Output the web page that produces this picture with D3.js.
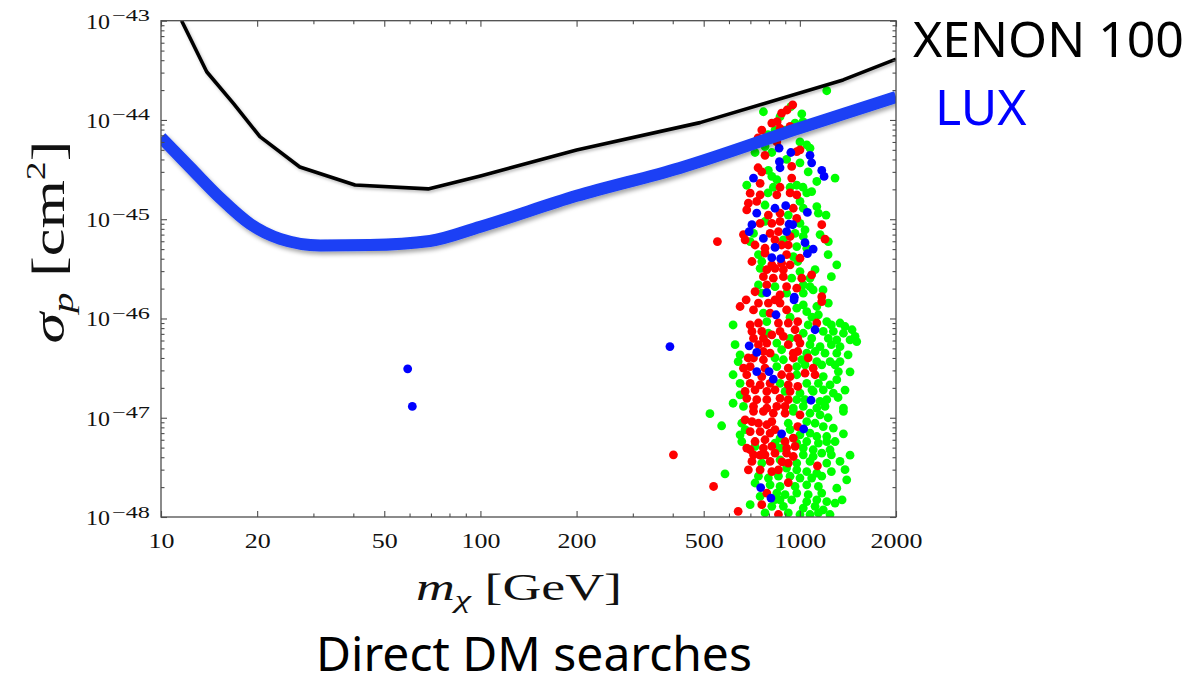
<!DOCTYPE html>
<html><head><meta charset="utf-8">
<script src="https://cdn.jsdelivr.net/npm/d3@7"></script>
<style>body{margin:0;background:#fff}svg{display:block}</style>
</head><body><svg id="c" width="1192" height="686"></svg>
<script>
// ---- data ----
const xTickValues = [10,20,50,100,200,500,1000,2000];
const xTickLabels = ["10","20","50","100","200","500","1000","2000"];
const yTickValues = [1e-48,1e-47,1e-46,1e-45,1e-44,1e-43];
const yTickExponents = ["\u221248","\u221247","\u221246","\u221245","\u221244","\u221243"];

const xenonMass  = [11.6, 13.9, 16.9, 20.4, 27.2, 40.5, 68.6, 100, 200, 487, 1366, 2000];
const xenonSigma = [1e-43, 3.06e-44, 1.45e-44, 6.79e-45, 3.36e-45, 2.21e-45, 2.02e-45, 2.73e-45, 4.99e-45, 9.4e-45, 2.53e-44, 4.1e-44];

const luxMass  = [10, 12.3, 15.3, 19.0, 23.6, 31.5, 45.1, 69.5, 100, 200, 421, 1000, 2000];
const luxSigma = [6.67e-45, 3.36e-45, 1.64e-45, 8.97e-46, 6.34e-46, 5.45e-46, 5.5e-46, 6.04e-46, 8.4e-46, 1.72e-45, 3.29e-45, 8.3e-45, 1.7e-44];

const greenPoints = [
[1214,1.97e-44],[937,1.36e-44],[769,1.21e-44],[867,1.08e-44],[1014,1.15e-44],[1023,9.6e-45],[836,7.9e-45],[899,7.9e-45],[966,9.3e-45],[795,7.1e-45],[1001,6.0e-45],[1051,5.6e-45],[1076,5.2e-45],[778,5.4e-45],[724,4.7e-45],[817,4.7e-45],[909,4.0e-45],[1001,3.7e-45],[797,3.1e-45],[817,2.7e-45],[682,2.2e-45],[847,2.5e-45],[978,2.2e-45],[1062,3.0e-45],[1130,2.4e-45],[1289,2.6e-45],[932,2.1e-45],[826,2.1e-45],[1023,2.1e-45],
[795,1.84e-45],[1051,1.84e-45],[1089,1.9e-45],[778,1.39e-45],[1001,1.51e-45],[1025,1.29e-45],[1130,1.34e-45],[1143,1.15e-45],[920,1.10e-45],[1208,1.1e-45],[778,9.5e-46],[1001,9.1e-46],[716,7.2e-46],[966,7.2e-46],[1038,7.8e-46],[1157,7.0e-46],[699,5.95e-46],[888,6.2e-46],[1228,5.95e-46],[1025,6.7e-46],[978,5.3e-46],[1051,5.1e-46],[742,4.4e-46],[954,4.2e-46],[1226,4.4e-46],[760,3.75e-46],[985,3.75e-46],[1305,3.47e-46],[751,3.2e-46],[1001,2.97e-46],[1116,3.1e-46],[1255,2.64e-46],[943,2.55e-46],[1076,2.55e-46],[742,2.18e-46],[836,2.09e-46],[1025,2.18e-46],[1076,2.09e-46],[1182,1.94e-46],[760,1.8e-46],[909,1.8e-46],[1025,1.8e-46],[1101,1.94e-46],
[1025,1.37e-46],[1130,1.32e-46],[1228,1.43e-46],[769,1.13e-46],[978,1.27e-46],[1051,1.17e-46],[1143,1.09e-46],[1091,1.03e-46],[932,1.03e-46],[618,8.6e-47],[788,9.3e-47],[1062,8.6e-47],[1214,9.3e-47],[1255,8.6e-47],[1336,9.0e-47],[1385,8.3e-47],[1457,7.7e-47],[797,7.1e-47],[1025,7.1e-47],[1184,7.4e-47],[1273,7.4e-47],[1369,7.1e-47],[1489,6.6e-47],[932,6.3e-47],[1089,6.3e-47],[1228,6.3e-47],[1305,6.1e-47],[1436,6.1e-47],[1507,5.85e-47],[627,5.45e-47],[847,5.65e-47],[1076,5.45e-47],[1157,5.2e-47],[1255,5.45e-47],[1336,5.2e-47],[877,4.84e-47],[1051,4.47e-47],[1116,4.65e-47],[1199,4.47e-47],[1305,4.47e-47],[1416,4.3e-47],[650,4.3e-47],[641,3.68e-47],[836,4.0e-47],[888,3.84e-47],[1014,3.84e-47],[1130,3.68e-47],[1243,3.68e-47],[1336,3.68e-47],[847,3.28e-47],[978,3.28e-47],[1038,3.41e-47],[1171,3.41e-47],[1289,3.41e-47],[1320,2.92e-47],[1436,2.9e-47],[618,2.71e-47],[978,2.71e-47],[1184,2.6e-47],[1305,2.42e-47],[650,2.22e-47],[867,2.22e-47],[1051,2.22e-47],[1143,2.22e-47],[1243,2.14e-47],[899,1.84e-47],[1001,1.77e-47],[1091,1.91e-47],[1101,1.84e-47],[1184,1.91e-47],[1273,1.77e-47],[1385,1.9e-47],[650,1.7e-47],[1317,1.6e-47],[618,1.4e-47],[978,1.52e-47],[1038,1.52e-47],[1157,1.46e-47],[1214,1.52e-47],[666,1.3e-47],[954,1.25e-47],[1025,1.3e-47],[1130,1.25e-47],[1199,1.3e-47],[1369,1.25e-47],
[523,1.1e-47],[954,1.16e-47],[1076,1.11e-47],[1157,1.07e-47],[1369,1.16e-47],[1226,1.0e-47],[569,8.3e-48],[658,8.8e-48],[920,8.8e-48],[1051,9.15e-48],[1116,8.8e-48],[1184,8.15e-48],[1273,7.86e-48],[674,7.6e-48],[932,7.6e-48],[650,6.73e-48],[867,6.23e-48],[1001,6.73e-48],[1076,7.0e-48],[1130,6.47e-48],[1214,6.47e-48],[1369,6.88e-48],[658,5.76e-48],[836,5.55e-48],[978,5.55e-48],[1051,5.76e-48],[1143,5.55e-48],[1214,5.76e-48],[1289,5.76e-48],[724,5.14e-48],[867,4.95e-48],[1025,4.95e-48],[1101,4.76e-48],[1243,4.76e-48],[1025,4.23e-48],[1101,4.07e-48],[1171,4.4e-48],[1255,4.23e-48],[1436,4.2e-48],[1336,3.63e-48],[760,3.49e-48],[867,3.77e-48],[978,3.49e-48],[1076,3.63e-48],[1214,3.49e-48],[909,3.11e-48],[978,2.99e-48],[1051,2.87e-48],[1130,2.77e-48],[1255,2.87e-48],[1385,3.0e-48],[583,2.72e-48],[742,2.58e-48],[797,2.47e-48],[857,2.58e-48],[932,2.58e-48],[1001,2.47e-48],[1089,2.47e-48],[1171,2.58e-48],[1402,2.37e-48],[724,2.2e-48],[807,2.11e-48],[867,2.03e-48],[966,2.03e-48],[1051,2.11e-48],[1143,2.03e-48],[1305,1.95e-48],[847,1.74e-48],[899,1.68e-48],[978,1.74e-48],[1062,1.68e-48],[1171,1.74e-48],[751,1.61e-48],[836,1.5e-48],[867,1.49e-48],[943,1.49e-48],[1051,1.43e-48],[1130,1.49e-48],[1214,1.43e-48],[1289,1.38e-48],[1356,1.49e-48],[699,1.33e-48],[817,1.28e-48],[888,1.28e-48],[1025,1.23e-48],[1116,1.28e-48],[1184,1.18e-48],[920,1.1e-48],[1001,1.06e-48],[1076,1.06e-48],[1143,1.1e-48],[1243,1.06e-48],[778,1.1e-48]
];

const redPoints = [
[950,1.42e-44],[912,1.26e-44],[877,1.17e-44],[849,9.6e-45],[817,9.3e-45],[760,7.9e-45],[867,8.2e-45],[932,8.6e-45],[740,6.6e-45],[847,6.0e-45],[1001,5.0e-45],[978,4.8e-45],[778,4.4e-45],[943,3.4e-45],[740,3.3e-45],[760,3.0e-45],[751,2.3e-45],[943,2.6e-45],[867,2.1e-45],
[699,1.83e-45],[751,1.76e-45],[847,1.76e-45],[932,1.84e-45],[978,1.76e-45],[690,1.45e-45],[733,1.51e-45],[954,1.29e-45],[682,1.24e-45],[797,1.10e-45],[867,1.15e-45],[978,1.02e-45],[751,9.1e-46],[817,9.1e-46],[867,9.5e-46],[1171,8.8e-46],[666,7.0e-46],[807,7.2e-46],[857,7.5e-46],[552,5.95e-46],[674,6.2e-46],[836,6.2e-46],[932,6.7e-46],[1199,6.3e-46],[724,5.5e-46],[778,5.1e-46],[877,5.5e-46],[920,5.5e-46],[778,4.55e-46],[909,4.4e-46],[1001,4.05e-46],[708,3.75e-46],[817,3.47e-46],[877,3.6e-46],[932,3.47e-46],[788,3.1e-46],[836,3.2e-46],[888,3.1e-46],[1089,2.75e-46],[769,2.64e-46],[826,2.55e-46],[888,2.64e-46],[1014,2.55e-46],[788,2.18e-46],[909,2.09e-46],[978,2.02e-46],[724,1.86e-46],[867,1.73e-46],[1171,1.66e-46],
[679,1.54e-46],[836,1.54e-46],[650,1.32e-46],[742,1.43e-46],[797,1.43e-46],[867,1.43e-46],[1171,1.48e-46],[716,1.22e-46],[807,1.13e-46],[909,1.22e-46],[699,8.6e-47],[742,9.0e-47],[857,9.0e-47],[920,9.0e-47],[985,9.3e-47],[1130,9.0e-47],[708,7.4e-47],[760,7.4e-47],[867,7.4e-47],[966,7.7e-47],[716,6.3e-47],[769,6.3e-47],[817,6.85e-47],[888,6.6e-47],[985,6.3e-47],[742,5.45e-47],[788,5.65e-47],[920,5.45e-47],[1001,5.65e-47],[769,4.65e-47],[807,4.47e-47],[954,4.47e-47],[985,4.65e-47],[689,4.0e-47],[716,4.0e-47],[769,3.84e-47],[954,4.0e-47],[1062,4.0e-47],[666,3.16e-47],[699,3.28e-47],[778,3.16e-47],[920,3.16e-47],[1101,3.16e-47],[682,2.71e-47],[760,2.6e-47],[877,2.71e-47],[932,2.6e-47],[1038,2.81e-47],[1116,2.71e-47],[699,2.22e-47],[751,2.14e-47],[807,2.22e-47],[920,2.14e-47],[985,2.07e-47],[674,1.84e-47],[724,1.91e-47],[788,1.84e-47],[836,1.91e-47],[932,1.84e-47],[682,1.57e-47],[733,1.52e-47],[788,1.52e-47],[867,1.57e-47],[920,1.52e-47],[716,1.3e-47],[788,1.25e-47],[847,1.3e-47],[899,1.3e-47],
[716,1.16e-47],[769,1.16e-47],[826,1.11e-47],[899,1.11e-47],[1001,1.07e-47],[674,9.5e-48],[708,9.15e-48],[742,8.8e-48],[788,8.5e-48],[817,9.15e-48],[985,8.15e-48],[836,7.6e-48],[699,7.26e-48],[751,7.26e-48],[807,7.0e-48],[954,6.23e-48],[724,5.76e-48],[778,6.0e-48],[899,5.76e-48],[682,4.95e-48],[699,4.76e-48],[769,4.95e-48],[817,5.14e-48],[909,4.95e-48],[966,5.14e-48],[716,4.23e-48],[751,4.2e-48],[778,4.23e-48],[836,4.4e-48],[909,4.4e-48],[954,4.07e-48],[708,3.63e-48],[807,3.63e-48],[880,3.6e-48],[920,3.49e-48],[1135,3.28e-48],[690,2.99e-48],[751,2.99e-48],[817,2.87e-48],[857,2.99e-48],[920,2.22e-48],[537,2.03e-48],[788,1.74e-48],[760,1.33e-48],[641,1.14e-48],[857,1.06e-48],
[402,4.23e-48]
];

const bluePoints = [
[861,5.2e-45],[937,4.7e-45],[1076,4.4e-45],[1089,3.7e-45],[863,3.8e-45],[867,3.3e-45],[1171,3.1e-45],[1191,2.7e-45],[716,2.6e-45],
[836,1.29e-45],[903,1.37e-45],[1056,1.17e-45],[733,1.15e-45],[708,8.8e-46],[925,8.9e-46],[950,8.8e-46],[694,7.5e-46],[909,7.5e-46],[769,6.4e-46],[1038,5.8e-46],[836,5.2e-46],[1101,5.0e-46],[1056,4.5e-46],[817,4.1e-46],[871,4.0e-46],[788,1.82e-46],[961,1.64e-46],
[959,1.54e-46],[842,1.09e-46],[1116,7.7e-47],[694,5.3e-47],[733,4.55e-47],[733,2.92e-47],[801,2.92e-47],[826,2.45e-47],[1084,1.5e-47],
[1028,7.7e-48],[877,6.88e-48],[754,1.98e-48],[812,1.55e-48],
[59.2,3.11e-47],[61.2,1.30e-47],[392,5.21e-47]
];

// ---- drawing ----
const svg = d3.select("#c");
const L = 161, R = 896, T = 20.7, B = 517;
const x = d3.scaleLog().domain([10,2000]).range([L,R]);
const y = d3.scaleLog().domain([1e-48,1e-43]).range([B,T]);

const defs = svg.append("defs");
defs.append("clipPath").attr("id","clip").append("rect")
  .attr("x",L).attr("y",T).attr("width",R-L).attr("height",B-T);
const f1 = defs.append("filter").attr("id","shLux").attr("x","-10%").attr("y","-10%").attr("width","120%").attr("height","140%");
f1.append("feDropShadow").attr("dx",2).attr("dy",3).attr("stdDeviation",2).attr("flood-color","#000").attr("flood-opacity",0.35);
const f2 = defs.append("filter").attr("id","shXe").attr("x","-10%").attr("y","-10%").attr("width","120%").attr("height","140%");
f2.append("feDropShadow").attr("dx",1.5).attr("dy",2).attr("stdDeviation",1.5).attr("flood-color","#000").attr("flood-opacity",0.25);

const plot = svg.append("g").attr("clip-path","url(#clip)");

function dots(data, color){
  plot.append("g").selectAll("circle").data(data).join("circle")
    .attr("cx", d => x(d[0])).attr("cy", d => y(d[1])).attr("r", 4.4)
    .attr("fill", color);
}
dots(greenPoints, "#00ff00");
dots(redPoints, "#ff0000");
dots(bluePoints, "#0000ff");

const xenon = xenonMass.map((m,i)=>[m, xenonSigma[i]]);
const lux = luxMass.map((m,i)=>[m, luxSigma[i]]);

plot.append("path").datum(xenon)
  .attr("d", d3.line().x(d=>x(d[0])).y(d=>y(d[1])).curve(d3.curveLinear))
  .attr("fill","none").attr("stroke","#000").attr("stroke-width",3.6)
  .attr("stroke-linejoin","round").attr("filter","url(#shXe)");

plot.append("path").datum(lux)
  .attr("d", d3.line().x(d=>x(d[0])).y(d=>y(d[1])).curve(d3.curveMonotoneX))
  .attr("fill","none").attr("stroke","#1a40f5").attr("stroke-width",12)
  .attr("stroke-linejoin","round").attr("filter","url(#shLux)");

// axes
const axisColor = "#4d4d4d";
const xMinor = x.ticks().filter(v => !xTickValues.some(m => Math.abs(v/m-1) < 1e-9));
const yMinor = y.ticks().filter(v => !yTickValues.some(m => Math.abs(v/m-1) < 1e-9));

function tickAxis(axisGen, scale, values, size, transform){
  const g = svg.append("g").attr("transform", transform)
    .call(axisGen(scale).tickValues(values).tickSizeInner(size).tickSizeOuter(0).tickFormat(""));
  g.select(".domain").remove();
  g.selectAll(".tick line").attr("stroke", axisColor).attr("stroke-width",1.1);
  g.selectAll(".tick text").remove();
  return g;
}
const gxB = tickAxis(d3.axisBottom, x, xTickValues, -6, `translate(0,${B})`);
tickAxis(d3.axisBottom, x, xMinor, -3.5, `translate(0,${B})`);
tickAxis(d3.axisTop, x, xTickValues, -6, `translate(0,${T})`);
tickAxis(d3.axisTop, x, xMinor, -3.5, `translate(0,${T})`);
const gyL = tickAxis(d3.axisLeft, y, yTickValues, -6, `translate(${L},0)`);
tickAxis(d3.axisLeft, y, yMinor, -3.5, `translate(${L},0)`);
tickAxis(d3.axisRight, y, yTickValues, -6, `translate(${R},0)`);
tickAxis(d3.axisRight, y, yMinor, -3.5, `translate(${R},0)`);

svg.append("rect").attr("x",L).attr("y",T).attr("width",R-L).attr("height",B-T)
  .attr("fill","none").attr("stroke",axisColor).attr("stroke-width",1.3);

const serif = "'Liberation Serif','DejaVu Serif',serif";
// x tick labels
gxB.selectAll(".tick").append("text")
  .attr("y", 31).attr("text-anchor","middle")
  .attr("font-family", serif).attr("font-size", 22).attr("fill","#111")
  .attr("textLength", (d,i) => xTickLabels[i].length * 13)
  .attr("lengthAdjust","spacingAndGlyphs")
  .text((d,i) => xTickLabels[i]);

// y tick labels 10^n
gyL.selectAll(".tick").each(function(d,i){
  const g = d3.select(this);
  g.append("text").attr("x",-51).attr("y",7.5).attr("text-anchor","end")
    .attr("font-family", serif).attr("font-size",22).attr("fill","#111")
    .attr("textLength",24).attr("lengthAdjust","spacingAndGlyphs").text("10");
  g.append("text").attr("x",-49).attr("y",0).attr("text-anchor","start")
    .attr("font-family", serif).attr("font-size",16).attr("fill","#111")
    .attr("textLength",38).attr("lengthAdjust","spacingAndGlyphs").text(yTickExponents[i]);
});

// axis titles
const xt = svg.append("text").attr("x", 519).attr("y", 600).attr("text-anchor","middle")
  .attr("font-family", serif).attr("font-size", 38).attr("fill","#111")
  .attr("textLength", 206).attr("lengthAdjust","spacingAndGlyphs");
xt.append("tspan").attr("font-style","italic").text("m");
xt.append("tspan").attr("font-style","italic").attr("font-size",26).attr("dy",8).text("\u03c7");
xt.append("tspan").attr("dy",-8).text(" [GeV]");

const yt = svg.append("text").attr("transform","translate(64,242) rotate(-90)").attr("text-anchor","middle")
  .attr("font-family", serif).attr("font-size", 46).attr("fill","#111")
  .attr("textLength", 203).attr("lengthAdjust","spacingAndGlyphs");
yt.append("tspan").attr("font-style","italic").text("\u03c3");
yt.append("tspan").attr("font-style","italic").attr("font-size",30).attr("dy",9).text("p");
yt.append("tspan").attr("dy",-9).text(" [cm");
yt.append("tspan").attr("font-size",28).attr("dy",-19).text("2");
yt.append("tspan").attr("dy",19).text("]");

// legends and title
const sans = "'Noto Sans','DejaVu Sans',sans-serif";
svg.append("text").attr("x",913).attr("y",57).attr("font-family",sans).attr("font-size",50)
  .attr("fill","#000").text("XENON 100");
svg.append("text").attr("x",935).attr("y",125).attr("font-family",sans).attr("font-size",50)
  .attr("fill","#0000ff").text("LUX");
svg.append("text").attr("x",534).attr("y",671).attr("text-anchor","middle").attr("font-family",sans).attr("font-size",48)
  .attr("fill","#000").text("Direct DM searches");
</script></body></html>
